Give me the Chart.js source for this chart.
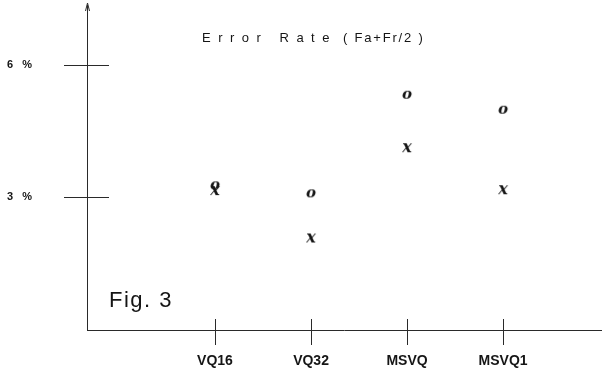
<!DOCTYPE html>
<html>
<head>
<meta charset="utf-8">
<script src="https://cdn.jsdelivr.net/npm/chart.js@4"></script>
<style>
  html, body { margin: 0; padding: 0; background: #fff; }
  #wrap { width: 604px; height: 374px; }
</style>
</head>
<body>
<div id="wrap"><canvas id="chartId" width="604" height="374"></canvas></div>
<script>
// data
var categories = ['VQ16', 'VQ32', 'MSVQ', 'MSVQ1']
var rateO = [3.27, 3.09, 5.32, 4.98]   // "o" marks
var rateX = [3.14, 2.07, 4.11, 3.16]   // "x" marks
var yTicks = [3, 6]
var titleLeft = 'Error Rate'
var titleRight = '( Fa+Fr/2 )'
var figLabel = 'Fig. 3'

var ink = '#151515'

// little canvases with a slanted letter, used as point styles
function glyph(ch, size) {
    var c = document.createElement('canvas')
    c.width = 20; c.height = 20
    var g = c.getContext('2d')
    g.fillStyle = ink
    g.font = 'italic bold ' + size + 'px "DejaVu Serif"'
    g.textAlign = 'center'
    g.textBaseline = 'middle'
    g.fillText(ch, 10, 10)
    return c
}

function pts(arr) {
    return arr.map((v, i) => ({ x: i + 1, y: v }))
}

// axis crosses, arrow and loose text
var decor = {
    id: 'decor',
    afterDraw(chart) {
        var ctx = chart.ctx
        var xs = chart.scales.x, ys = chart.scales.y
        var a = chart.chartArea
        var x0 = a.left, y0 = ys.getPixelForValue(0)
        ctx.save()
        ctx.strokeStyle = '#2a2a2a'
        ctx.lineWidth = 1
        // y axis with arrow
        ctx.beginPath()
        ctx.moveTo(x0 + 0.5, y0 + 1)
        ctx.lineTo(x0 + 0.5, a.top - 3)
        ctx.moveTo(x0 + 0.5, a.top - 5)
        ctx.lineTo(x0 - 1.5, a.top + 3)
        ctx.moveTo(x0 + 0.5, a.top - 5)
        ctx.lineTo(x0 + 2.5, a.top + 3)
        // x axis
        ctx.moveTo(x0, y0 + 0.5)
        ctx.lineTo(a.right, y0 + 0.5)
        ctx.stroke()
        // tick crosses
        ctx.beginPath()
        yTicks.forEach(v => {
            var py = Math.round(ys.getPixelForValue(v)) + 0.5
            ctx.moveTo(x0 - 23, py)
            ctx.lineTo(x0 + 22, py)
        })
        categories.forEach((c, i) => {
            var px = Math.round(xs.getPixelForValue(i + 1)) + 0.5
            ctx.moveTo(px, y0 - 11)
            ctx.lineTo(px, y0 + 15)
        })
        ctx.stroke()

        // title
        ctx.fillStyle = ink
        ctx.textBaseline = 'middle'
        ctx.font = '13px "Liberation Sans"'
        ctx.letterSpacing = '7.5px'
        ctx.fillText(titleLeft, 202, 38)
        ctx.letterSpacing = '1.8px'
        ctx.fillText(titleRight, 343, 38)
        // figure label
        ctx.font = '22px "Liberation Sans"'
        ctx.letterSpacing = '1.5px'
        ctx.textBaseline = 'alphabetic'
        ctx.fillText(figLabel, 109, 307)
        ctx.letterSpacing = '0px'
        ctx.restore()
    }
}

var chrt = document.getElementById('chartId').getContext('2d')
var scatterChart = new Chart(chrt, {
    type: 'scatter',
    data: {
        datasets: [{
            label: 'o',
            data: pts(rateO),
            pointStyle: glyph('o', 15),
            pointRadius: 6
        }, {
            label: 'x',
            data: pts(rateX),
            pointStyle: glyph('x', 16),
            pointRadius: 6
        }]
    },
    options: {
        responsive: false,
        animation: false,
        layout: { autoPadding: false, padding: { top: 8, right: 2, left: 7, bottom: 0 } },
        plugins: {
            legend: { display: false },
            tooltip: { enabled: false }
        },
        scales: {
            x: {
                type: 'linear',
                min: -0.333,
                max: 5.03,
                grid: { display: false, drawTicks: false },
                border: { display: false },
                afterBuildTicks: s => { s.ticks = categories.map((c, i) => ({ value: i + 1 })) },
                afterFit: s => { s.height = 44 },
                ticks: {
                    autoSkip: false,
                    maxRotation: 0,
                    padding: 23,
                    color: ink,
                    font: { family: 'Liberation Sans', size: 14, weight: 'bold' },
                    callback: v => categories[v - 1]
                }
            },
            y: {
                min: 0,
                max: 7.28,
                grid: { display: false, drawTicks: false },
                border: { display: false },
                afterBuildTicks: s => { s.ticks = yTicks.map(v => ({ value: v })) },
                afterFit: s => { s.width = 80 },
                ticks: {
                    padding: 0,
                    crossAlign: 'far',
                    color: ink,
                    font: { family: 'Liberation Sans', size: 11, weight: 'bold' },
                    callback: v => v + '   %'
                }
            }
        }
    },
    plugins: [decor]
})
</script>
</body>
</html>
